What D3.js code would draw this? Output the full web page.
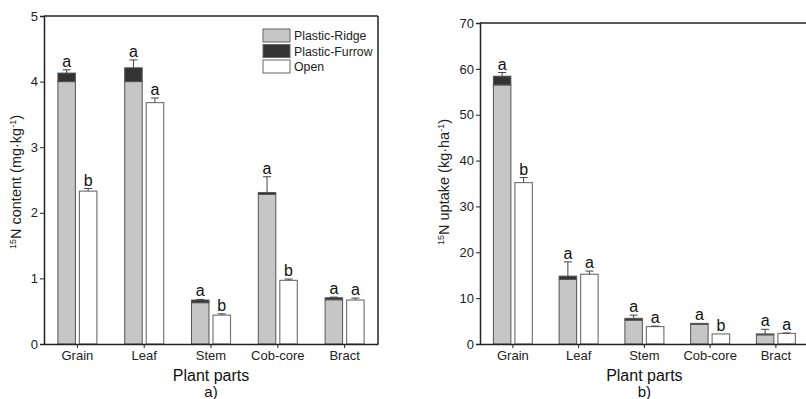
<!DOCTYPE html>
<html>
<head>
<meta charset="utf-8">
<script src="https://cdn.jsdelivr.net/npm/d3@7"></script>
<style>
  body { margin: 0; background: #fff; }
  svg { font-family: "Liberation Sans", Arial, sans-serif; }
</style>
</head>
<body>
<script>
const categories = ["Grain", "Leaf", "Stem", "Cob-core", "Bract"];

// a) 15N content
const contentRidge = [4.0, 4.0, 0.63, 2.28, 0.675];
const contentFurrow = [0.13, 0.21, 0.04, 0.03, 0.03];
const contentErr = [0.05, 0.12, 0.01, 0.24, 0.01];
const contentOpen = [2.33, 3.68, 0.44, 0.97, 0.67];
const contentOpenErr = [0.04, 0.07, 0.02, 0.02, 0.03];
const contentLetters = ["a", "a", "a", "a", "a"];
const contentOpenLetters = ["b", "a", "b", "b", "a"];
const contentTicks = [0, 1, 2, 3, 4, 5];

// b) 15N uptake
const uptakeRidge = [56.5, 14.1, 5.2, 4.3, 2.0];
const uptakeFurrow = [1.9, 0.7, 0.4, 0.2, 0.2];
const uptakeErr = [0.8, 3.1, 0.7, 0, 1.0];
const uptakeOpen = [35.2, 15.2, 3.8, 2.2, 2.3];
const uptakeOpenErr = [1.1, 0.7, 0.1, 0, 0.1];
const uptakeLetters = ["a", "a", "a", "a", "a"];
const uptakeOpenLetters = ["b", "a", "a", "b", "a"];
const uptakeTicks = [0, 10, 20, 30, 40, 50, 60, 70];

const legendItems = ["Plastic-Ridge", "Plastic-Furrow", "Open"];
const fills = { ridge: "#c6c6c6", furrow: "#333333", open: "#ffffff" };

const svg = d3.select("body").append("svg")
  .attr("width", 806).attr("height", 399);

const panel = function(opt) {
  const x = d3.scaleBand().domain(categories).range([opt.x0, opt.x1]);
  const y = d3.scaleLinear().domain(opt.domain).range([344, opt.yTop]);
  const g = svg.append("g");
  const bw = 17.5;

  const rows = categories.map((c, i) => ({
    cat: c, ridge: opt.ridge[i], furrow: opt.furrow[i], err: opt.err[i],
    open: opt.open[i], openErr: opt.openErr[i],
    l1: opt.letters[i], l2: opt.openLetters[i]
  }));
  const stack = d3.stack().keys(["ridge", "furrow"])(rows);
  const cx = d => x(d.cat) + x.bandwidth() / 2;

  // stacked bars
  stack.forEach(layer => {
    g.selectAll(null).data(layer).enter().append("rect")
      .attr("x", d => cx(d.data) - 2 - bw)
      .attr("width", bw)
      .attr("y", d => y(d[1]))
      .attr("height", d => y(d[0]) - y(d[1]))
      .attr("fill", fills[layer.key])
      .attr("stroke", "#555")
      .attr("stroke-width", 1);
  });

  // open bars
  g.selectAll(null).data(rows).enter().append("rect")
    .attr("x", d => cx(d) + 2)
    .attr("width", bw)
    .attr("y", d => y(d.open))
    .attr("height", d => y(0) - y(d.open))
    .attr("fill", fills.open)
    .attr("stroke", "#777")
    .attr("stroke-width", 1.2);

  // error bars (upper only)
  const errs = rows.flatMap(d => [
    { x: cx(d) - 2 - bw / 2, top: d.ridge + d.furrow, e: d.err, lab: d.l1 },
    { x: cx(d) + 2 + bw / 2, top: d.open, e: d.openErr, lab: d.l2 }
  ]);
  const eg = g.selectAll(null).data(errs.filter(d => d.e > 0)).enter().append("g")
    .attr("stroke", "#444").attr("stroke-width", 1);
  eg.append("line")
    .attr("x1", d => d.x).attr("x2", d => d.x)
    .attr("y1", d => y(d.top)).attr("y2", d => y(d.top + d.e));
  eg.append("line")
    .attr("x1", d => d.x - 4).attr("x2", d => d.x + 4)
    .attr("y1", d => y(d.top + d.e)).attr("y2", d => y(d.top + d.e));

  g.selectAll(null).data(errs).enter().append("text")
    .attr("x", d => d.x)
    .attr("y", d => y(d.top + d.e) - 3)
    .attr("text-anchor", "middle")
    .attr("font-size", 16)
    .attr("fill", "#111")
    .text(d => d.lab);

  // axes
  const yAxis = d3.axisLeft(y).tickValues(opt.ticks).tickFormat(d3.format("d"))
    .tickSize(4).tickPadding(2);
  const ya = g.append("g").attr("transform", `translate(${opt.x0},0)`).call(yAxis);
  ya.select(".domain").attr("stroke", "#222").attr("stroke-width", 1.5);
  ya.selectAll(".tick line").attr("stroke", "#222");
  ya.selectAll(".tick text").attr("font-size", 13).attr("fill", "#222")
    .attr("font-family", "Liberation Sans, Arial, sans-serif");

  const xAxis = d3.axisBottom(x).tickSize(4).tickPadding(3).tickSizeOuter(0);
  const xa = g.append("g").attr("transform", "translate(0,344)").call(xAxis);
  xa.select(".domain").attr("stroke", "#222").attr("stroke-width", 1.5);
  xa.selectAll(".tick line").attr("stroke", "#222");
  xa.selectAll(".tick text").attr("font-size", 13).attr("fill", "#222")
    .attr("font-family", "Liberation Sans, Arial, sans-serif");

  // top line and right line
  g.append("line").attr("x1", opt.x0).attr("x2", opt.frameRight)
    .attr("y1", y(opt.domain[1])).attr("y2", y(opt.domain[1]))
    .attr("stroke", "#222").attr("stroke-width", 1.5);
  if (opt.rightBorder) {
    g.append("line").attr("x1", opt.x1).attr("x2", opt.x1)
      .attr("y1", y(opt.domain[1])).attr("y2", 344)
      .attr("stroke", "#222").attr("stroke-width", 1.5);
  }

  // titles
  const t = g.append("text")
    .attr("transform", `translate(${opt.titleX},182) rotate(-90)`)
    .attr("text-anchor", "middle")
    .attr("font-size", 14.5)
    .attr("fill", "#222");
  t.append("tspan").attr("font-size", 9).attr("dy", -5).text("15");
  t.append("tspan").attr("dy", 5).text("N " + opt.title + " (" + opt.unit + "\u00b7" + opt.unit2);
  t.append("tspan").attr("font-size", 9).attr("dy", -5).text("-1");
  t.append("tspan").attr("dy", 5).text(")");

  const mid = (opt.x0 + opt.x1) / 2;
  g.append("text").attr("x", mid).attr("y", 381)
    .attr("text-anchor", "middle").attr("font-size", 16).attr("fill", "#111")
    .text("Plant parts");
  g.append("text").attr("x", mid).attr("y", 397)
    .attr("text-anchor", "middle").attr("font-size", 15).attr("fill", "#111")
    .text(opt.tag);
};

panel({
  x0: 44, x1: 378, frameRight: 378, rightBorder: true, yTop: 16,
  domain: [0, 5], ticks: contentTicks,
  ridge: contentRidge, furrow: contentFurrow, err: contentErr,
  open: contentOpen, openErr: contentOpenErr,
  letters: contentLetters, openLetters: contentOpenLetters,
  titleX: 21, title: "content", unit: "mg", unit2: "kg", tag: "a)"
});

panel({
  x0: 480, x1: 808.75, frameRight: 806, rightBorder: false, yTop: 23,
  domain: [0, 70], ticks: uptakeTicks,
  ridge: uptakeRidge, furrow: uptakeFurrow, err: uptakeErr,
  open: uptakeOpen, openErr: uptakeOpenErr,
  letters: uptakeLetters, openLetters: uptakeOpenLetters,
  titleX: 449, title: "uptake", unit: "kg", unit2: "ha", tag: "b)"
});

// legend
const leg = svg.append("g").attr("transform", "translate(263,29)");
const legFills = [fills.ridge, fills.furrow, fills.open];
leg.selectAll(null).data(legendItems).enter().append("rect")
  .attr("x", 0).attr("y", (d, i) => i * 15.5)
  .attr("width", 27).attr("height", 13)
  .attr("fill", (d, i) => legFills[i])
  .attr("stroke", "#666");
leg.selectAll(null).data(legendItems).enter().append("text")
  .attr("x", 31).attr("y", (d, i) => i * 15.5 + 11)
  .attr("font-size", 12.3).attr("fill", "#222")
  .text(d => d);
</script>
</body>
</html>
